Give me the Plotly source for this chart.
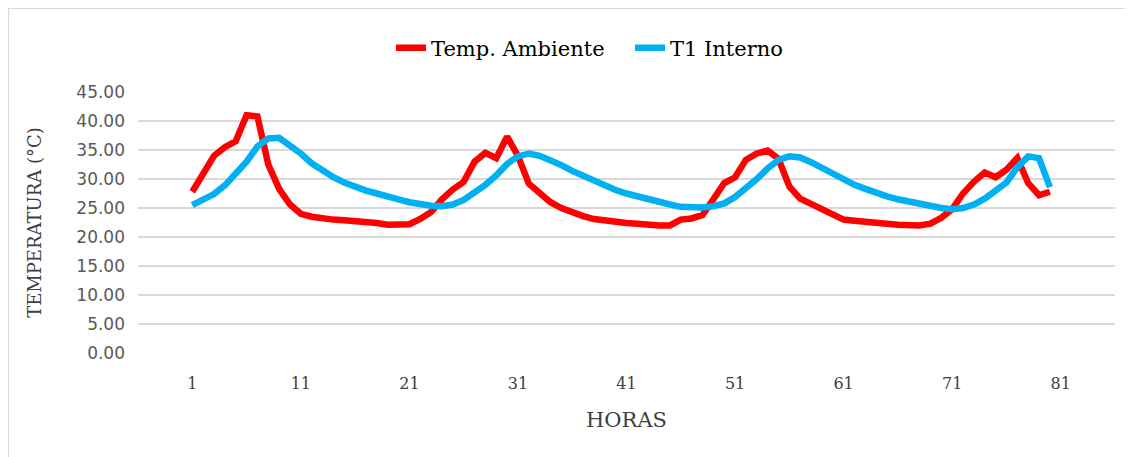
import plotly.graph_objects as go

horas = list(range(1, 81))

temp_ambiente = [
    27.8, 30.8, 34.0, 35.5, 36.5, 41.0, 40.8, 32.5, 28.3, 25.6,
    24.0, 23.5, 23.2, 23.0, 22.9, 22.8, 22.7, 22.4, 22.1, 22.1,
    22.2, 23.1, 24.3, 26.5, 28.2, 29.5, 33.0, 34.5, 33.6, 37.3,
    34.0, 29.2, 27.5, 26.0, 25.0, 24.2, 23.6, 23.1, 22.8, 22.5,
    22.4, 22.3, 22.1, 22.0, 22.0, 23.0, 23.2, 23.8, 26.5, 29.3,
    30.3, 33.3, 34.4, 34.9, 33.5, 28.7, 26.6, 25.7, 24.8, 23.8,
    23.0, 22.8, 22.7, 22.6, 22.3, 22.1, 22.0, 22.0, 22.3, 23.3,
    24.8, 27.5, 29.5, 31.1, 30.3, 31.6, 33.6, 29.3, 27.2, 27.8,
]

t1_interno = [
    25.5, 26.3, 27.4, 28.9, 30.8, 33.0, 35.6, 37.0, 37.1, 35.8,
    34.4, 32.7, 31.4, 30.3, 29.4, 28.6, 28.0, 27.5, 26.9, 26.5,
    26.0, 25.6, 25.4, 25.3, 25.6, 26.4, 27.6, 29.0, 30.6, 32.6,
    33.9, 34.4, 34.0, 33.3, 32.4, 31.4, 30.5, 29.6, 28.8, 28.1,
    27.5, 27.0, 26.4, 26.0, 25.6, 25.2, 25.1, 25.1, 25.3, 25.8,
    26.9, 28.3, 30.0, 31.8, 33.3, 33.9, 33.7, 32.9, 31.9, 31.0,
    30.0, 29.0, 28.3, 27.5, 27.0, 26.5, 26.1, 25.6, 25.3, 25.0,
    24.8, 25.0, 25.6, 26.6, 28.0, 29.4, 32.0, 33.9, 33.6, 28.6,
]

x_ticks = [1, 11, 21, 31, 41, 51, 61, 71, 81]
y_ticks = [0, 5, 10, 15, 20, 25, 30, 35, 40, 45]

serif = "DejaVu Serif"
sans = "DejaVu Sans"

fig = go.Figure()
fig.add_trace(go.Scatter(
    x=horas, y=temp_ambiente, mode="lines", name="Temp. Ambiente",
    line=dict(color="#FF0000", width=6.5),
))
fig.add_trace(go.Scatter(
    x=horas, y=t1_interno, mode="lines", name="T1 Interno",
    line=dict(color="#00B0F0", width=6.5),
))

# page offset of the figure (default body margin)
OFF = 8
W, H = 1125, 449
L, T = 138 - OFF, 92 - OFF
R = W - (1115 - OFF)
B = H - (353 - OFF)
pw, ph = W - L - R, H - T - B

def px2paper_x(px):
    return (px - OFF - L) / pw

def px2paper_y(py):
    return (H - B - (py - OFF)) / ph

fig.update_layout(
    width=W, height=H,
    margin=dict(l=L, r=R, t=T, b=B),
    paper_bgcolor="white", plot_bgcolor="white",
    showlegend=True,
    legend=dict(
        orientation="h", x=px2paper_x(391), xanchor="left",
        y=px2paper_y(48), yanchor="middle",
        font=dict(family=serif, size=21, color="#000000"),
        bgcolor="rgba(0,0,0,0)",
        entrywidth=194, entrywidthmode="pixels",
    ),
    xaxis=dict(
        range=[-4, 86], tickmode="array", tickvals=x_ticks,
        ticktext=[str(v) for v in x_ticks],
        showgrid=False, zeroline=False, showline=False, ticks="",
        tickfont=dict(family=serif, size=16, color="#404040"),
        ticklabelstandoff=19,
        title=dict(text="HORAS", font=dict(family=serif, size=21, color="#404040"), standoff=20),
    ),
    yaxis=dict(
        range=[0, 45], tickmode="array", tickvals=y_ticks,
        ticktext=[f"{v:.2f}" for v in y_ticks],
        showgrid=True, gridcolor="#D9D9D9", gridwidth=1.5,
        zeroline=False, showline=False, ticks="",
        tickfont=dict(family=sans, size=17, color="#595959"),
        ticklabelstandoff=12,
        title=dict(text="TEMPERATURA (°C)", font=dict(family=serif, size=18, color="#404040"), standoff=30),
    ),
    shapes=[
        dict(type="line", xref="paper", yref="paper",
             x0=px2paper_x(8), x1=px2paper_x(1140), y0=px2paper_y(8.5), y1=px2paper_y(8.5),
             line=dict(color="#D9D9D9", width=1.2)),
        dict(type="line", xref="paper", yref="paper",
             x0=px2paper_x(8.5), x1=px2paper_x(8.5), y0=px2paper_y(8), y1=px2paper_y(470),
             line=dict(color="#D9D9D9", width=1.2)),
    ],
)

fig.write_html("out.html")
